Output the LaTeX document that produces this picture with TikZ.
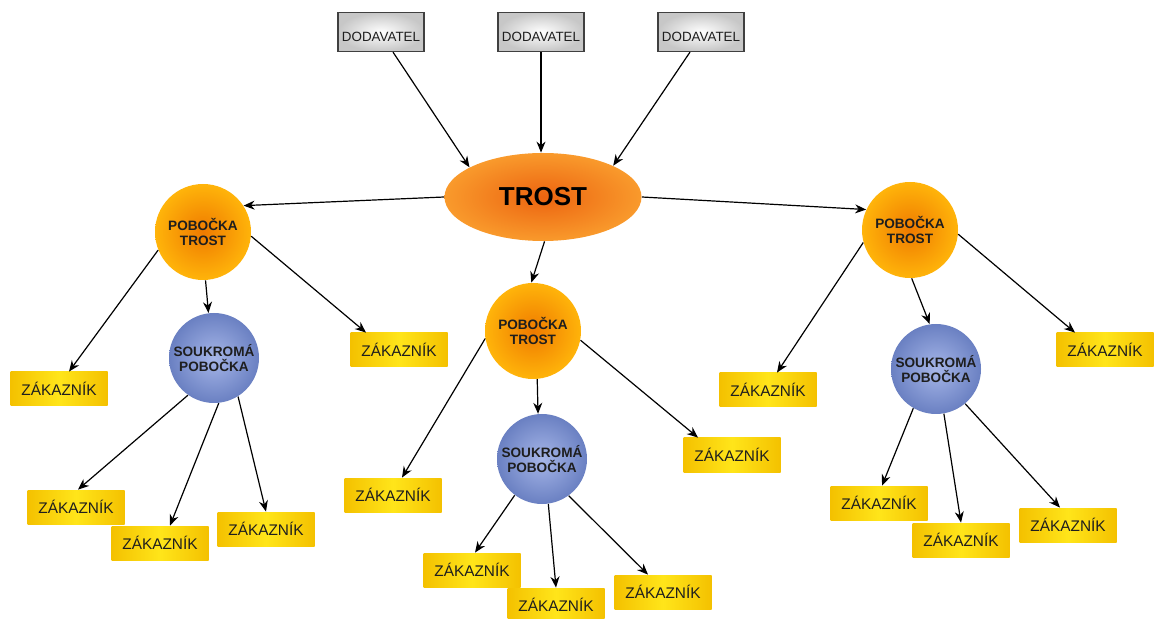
\documentclass[tikz,border=0pt]{standalone}
\usepackage{fontspec}
\setmainfont{Liberation Sans}
\usetikzlibrary{arrows.meta,shapes.geometric}
\definecolor{ztop}{HTML}{FFE51A}
\definecolor{zside}{HTML}{F4C100}
\definecolor{orin}{HTML}{EF7A00}
\definecolor{orout}{HTML}{FFB40A}
\definecolor{blin}{HTML}{A6B6E8}
\definecolor{blout}{HTML}{6A80C2}
\definecolor{elin}{HTML}{EC6410}
\definecolor{elout}{HTML}{F99A2C}
\definecolor{txt}{HTML}{1E1E1E}
\tikzset{
  supbox/.style={rectangle, draw=black!75, line width=0.6pt, inner color=white, outer color=black!22,
    minimum width=43pt, minimum height=19.5pt, inner sep=0pt, text height=10pt, text depth=0.4pt,
    font=\fontsize{6.7}{7.5}\selectfont, text=txt},
  custbox/.style={rectangle, left color=zside, right color=zside, middle color=ztop,
    minimum width=48.5pt, minimum height=17pt, inner sep=0pt,
    font=\fontsize{7.7}{8.5}\selectfont, text=txt},
  branch/.style={circle, inner color=orin, outer color=orout, minimum size=48pt, inner sep=0pt,
    align=center, font=\bfseries\fontsize{6.8}{7.6}\selectfont, text=txt},
  private/.style={circle, inner color=blin, outer color=blout, minimum size=45pt, inner sep=0pt,
    align=center, font=\bfseries\fontsize{6.8}{7.6}\selectfont, text=txt},
  hub/.style={ellipse, inner color=elin, outer color=elout, minimum width=98.5pt, minimum height=44pt,
    inner sep=0pt, font=\bfseries\fontsize{13}{15}\selectfont, text=black},
  arr/.style={-{Stealth[length=5.5pt,width=4.5pt]}, line width=0.6pt, black}
}
\begin{document}
\begin{tikzpicture}[x=0.5pt,y=-0.5pt]
\useasboundingbox (0,0) rectangle (1155,619);
% suppliers
\node[supbox] (d1) at (381,32) {DODAVATEL};
\node[supbox] (d2) at (541,32) {DODAVATEL};
\node[supbox] (d3) at (701,32) {DODAVATEL};
% hub
\node[hub] (tr) at (543,197) {TROST};
% branches
\node[branch] (pl) at (203,232) {POBOČKA\\TROST};
\node[branch] (pm) at (533,331) {POBOČKA\\TROST};
\node[branch] (pr) at (910,230) {POBOČKA\\TROST};
% private branches
\node[private] (sl) at (214,358) {SOUKROMÁ\\POBOČKA};
\node[private] (sm) at (542,459) {SOUKROMÁ\\POBOČKA};
\node[private] (sr) at (936,369) {SOUKROMÁ\\POBOČKA};
% customers
\node[custbox] (z1) at (59,389) {ZÁKAZNÍK};
\node[custbox] (z2) at (399,350) {ZÁKAZNÍK};
\node[custbox] (z3) at (76,507) {ZÁKAZNÍK};
\node[custbox] (z4) at (160,543) {ZÁKAZNÍK};
\node[custbox] (z5) at (266,529) {ZÁKAZNÍK};
\node[custbox] (z6) at (393,495) {ZÁKAZNÍK};
\node[custbox] (z7) at (732,455) {ZÁKAZNÍK};
\node[custbox] (z8) at (472,570) {ZÁKAZNÍK};
\node[custbox] (z9) at (556,605) {ZÁKAZNÍK};
\node[custbox] (z10) at (663,592) {ZÁKAZNÍK};
\node[custbox] (z11) at (768,390) {ZÁKAZNÍK};
\node[custbox] (z12) at (1105,350) {ZÁKAZNÍK};
\node[custbox] (z13) at (879,503) {ZÁKAZNÍK};
\node[custbox] (z14) at (961,540) {ZÁKAZNÍK};
\node[custbox] (z15) at (1068,525) {ZÁKAZNÍK};
% supplier arrows
\draw[arr] ([xshift=6pt]d1.south) -- (tr.158);
\draw[arr] (d2.south) -- (d2.south |- tr.north);
\draw[arr] ([xshift=-5.5pt]d3.south) -- (tr.24);
% hub arrows
\draw[arr] (tr.180) -- (pl.33);
\draw[arr] (tr.272) -- (pm.92);
\draw[arr] (tr.0) -- (pr.155);
% left branch
\draw[arr] (pl.202) -- ([xshift=5pt]z1.north);
\draw[arr] (pl.-87) -- (sl.97);
\draw[arr] (pl.-5) -- ([xshift=-16.5pt]z2.north);
\draw[arr] (sl.-125) -- ([xshift=1pt]z3.north);
\draw[arr] (sl.-84) -- ([xshift=5pt]z4.north);
\draw[arr] (sl.-58) -- (z5.north);
% middle branch
\draw[arr] (pm.189) -- ([xshift=4.5pt]z6.north);
\draw[arr] (pm.-85) -- (sm.95);
\draw[arr] (pm.-11) -- ([xshift=-17pt]z7.north);
\draw[arr] (sm.-127) -- ([xshift=1.5pt]z8.north);
\draw[arr] (sm.-82) -- (z9.north);
\draw[arr] (sm.-54) -- ([xshift=-7.5pt]z10.north);
% right branch
\draw[arr] (pr.195) -- ([xshift=4.5pt]z11.north);
\draw[arr] (pr.-88) -- (sr.98);
\draw[arr] (pr.-5) -- ([xshift=-15pt]z12.north);
\draw[arr] (sr.-120) -- ([xshift=1.5pt]z13.north);
\draw[arr] (sr.-80) -- (z14.north);
\draw[arr] (sr.-50) -- ([xshift=-4pt]z15.north);
\end{tikzpicture}
\end{document}
